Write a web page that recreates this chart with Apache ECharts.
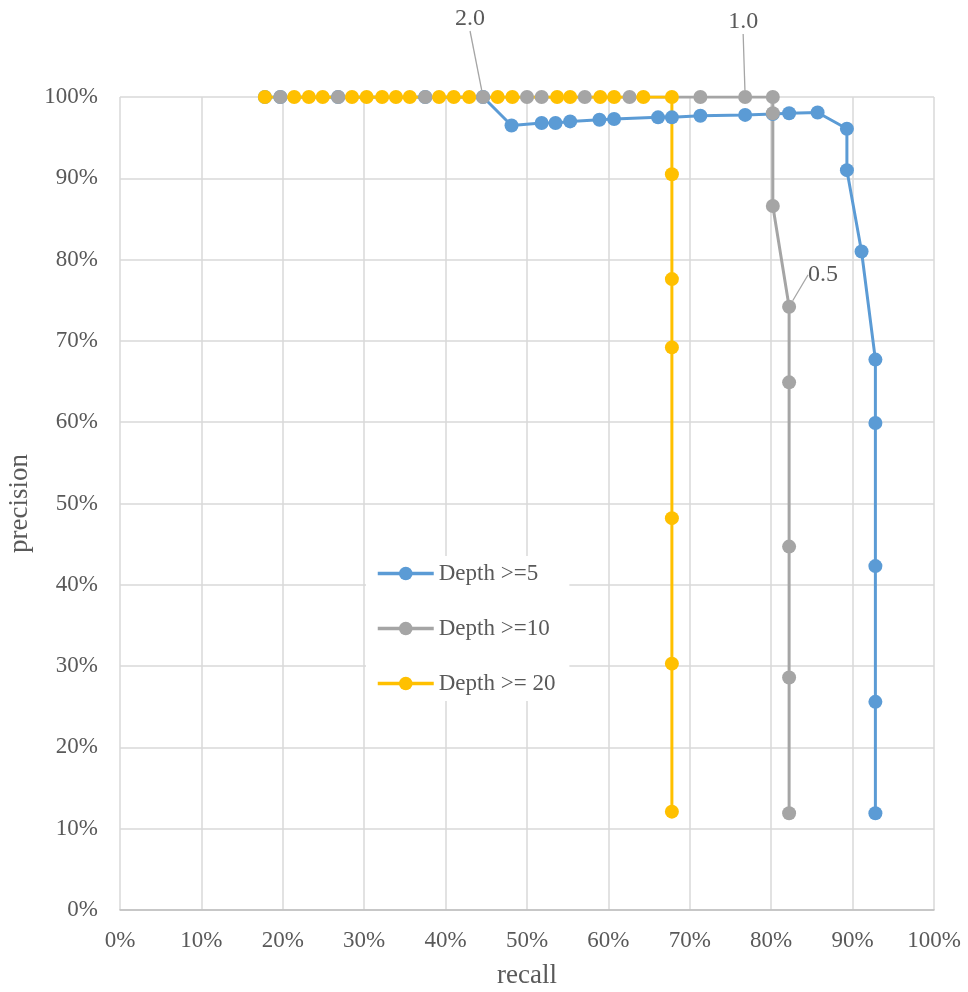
<!DOCTYPE html>
<html>
<head>
<meta charset="utf-8">
<script src="https://cdn.jsdelivr.net/npm/echarts@6/dist/echarts.min.js"></script>
<style>html,body{margin:0;padding:0;background:#fff;}#c{width:968px;height:992px;}</style>
</head>
<body>
<div id="c"></div>
<script>
// ---- data (recall %, precision %) ----
const seriesNames = ['Depth >=5', 'Depth >=10', 'Depth >= 20'];

const recallD5 = [17.8, 19.7, 26.8, 37.5, 44.6, 48.1, 51.8, 53.5, 55.3, 58.9, 60.7, 66.1, 67.8, 71.3, 76.8, 80.2, 82.2, 85.7, 89.3, 89.3, 91.1, 92.8, 92.8, 92.8, 92.8, 92.8];
const precisionD5 = [100, 100, 100, 100, 100, 96.5, 96.8, 96.8, 97.0, 97.2, 97.3, 97.5, 97.5, 97.7, 97.8, 97.9, 98.0, 98.1, 96.1, 91.0, 81.0, 67.7, 59.9, 42.3, 25.6, 11.9];

const recallD10 = [19.7, 26.8, 37.5, 44.6, 50.0, 51.8, 57.1, 62.6, 71.3, 76.8, 80.2, 80.2, 80.2, 82.2, 82.2, 82.2, 82.2, 82.2];
const precisionD10 = [100, 100, 100, 100, 100, 100, 100, 100, 100, 100, 100, 98.0, 86.6, 74.2, 64.9, 44.7, 28.6, 11.9];

const recallD20 = [17.8, 21.4, 23.2, 24.9, 28.5, 30.3, 32.2, 33.9, 35.6, 39.2, 41.0, 42.9, 46.4, 48.2, 53.7, 55.3, 59.0, 60.7, 64.3, 67.8, 67.8, 67.8, 67.8, 67.8, 67.8, 67.8];
const precisionD20 = [100, 100, 100, 100, 100, 100, 100, 100, 100, 100, 100, 100, 100, 100, 100, 100, 100, 100, 100, 100, 90.5, 77.6, 69.2, 48.2, 30.3, 12.1];

// threshold annotations on the Depth >=10 series (point index -> text)
const annotIndex = [3, 9, 13];
const annotText = ['2.0', '1.0', '0.5'];

// ---- styling / layout ----
const FONT = '"Liberation Serif", "Times New Roman", serif';
const TXT = '#595959';
const colors = ['#5B9BD5', '#A5A5A5', '#FFC000'];
const annotOffset = { 3: [-13, -78], 9: [-2, -75], 13: [34, -32] };

function zip(xs, ys) { return xs.map((x, i) => [x, ys[i]]); }

const d10 = zip(recallD10, precisionD10).map((p, i) => {
  const k = annotIndex.indexOf(i);
  if (k < 0) return { value: p };
  return {
    value: p,
    label: { show: true, formatter: annotText[k], position: 'inside',
             fontFamily: FONT, fontSize: 24, color: TXT },
    labelLine: { show: true, lineStyle: { color: '#A5A5A5', width: 1.3 } }
  };
});

function lineSeries(name, data, color, extra) {
  return Object.assign({
    name: name,
    type: 'line',
    data: data,
    symbol: 'circle',
    symbolSize: 14,
    showAllSymbol: true,
    itemStyle: { color: color },
    lineStyle: { color: color, width: 3 },
    animation: false
  }, extra || {});
}

const chart = echarts.init(document.getElementById('c'), null, { renderer: 'canvas' });
chart.setOption({
  backgroundColor: '#fff',
  textStyle: { fontFamily: FONT },
  grid: { left: 120, right: 34, top: 97, bottom: 82, containLabel: false, outerBoundsMode: 'none' },
  legend: {
    orient: 'vertical',
    left: 366,
    top: 556,
    padding: [6, 14, 6, 10],
    backgroundColor: '#fff',
    itemWidth: 56,
    itemHeight: 17,
    itemGap: 32,
    lineStyle: { width: 3.5 },
    textStyle: { fontFamily: FONT, fontSize: 23, color: TXT },
    data: seriesNames
  },
  xAxis: {
    type: 'value', min: 0, max: 100, interval: 10,
    name: 'recall', nameLocation: 'middle', nameGap: 52,
    nameTextStyle: { fontFamily: FONT, fontSize: 27, color: TXT },
    axisLine: { show: true, lineStyle: { color: '#BFBFBF', width: 1.5 } },
    axisTick: { show: false },
    axisLabel: { margin: 19, fontFamily: FONT, fontSize: 23, color: TXT, formatter: '{value}%' },
    splitLine: { show: true, lineStyle: { color: '#D9D9D9', width: 1.5 } }
  },
  yAxis: {
    type: 'value', min: 0, max: 100, interval: 10,
    name: 'precision', nameLocation: 'middle', nameGap: 84,
    nameTextStyle: { fontFamily: FONT, fontSize: 27, color: TXT },
    axisLine: { show: false },
    axisTick: { show: false },
    axisLabel: { margin: 22, fontFamily: FONT, fontSize: 23, color: TXT, formatter: '{value}%' },
    splitLine: { show: true, lineStyle: { color: '#D9D9D9', width: 1.5 } }
  },
  series: [
    lineSeries(seriesNames[0], zip(recallD5, precisionD5), colors[0]),
    lineSeries(seriesNames[1], d10, colors[1], {
      labelLayout: function (params) {
        const o = annotOffset[params.dataIndex];
        if (!o) return {};
        return { dx: o[0], dy: o[1] };
      },
      labelLine: { show: true, lineStyle: { color: '#A5A5A5', width: 1.3 } }
    }),
    lineSeries(seriesNames[2], zip(recallD20, precisionD20), colors[2])
  ]
});
</script>
</body>
</html>
